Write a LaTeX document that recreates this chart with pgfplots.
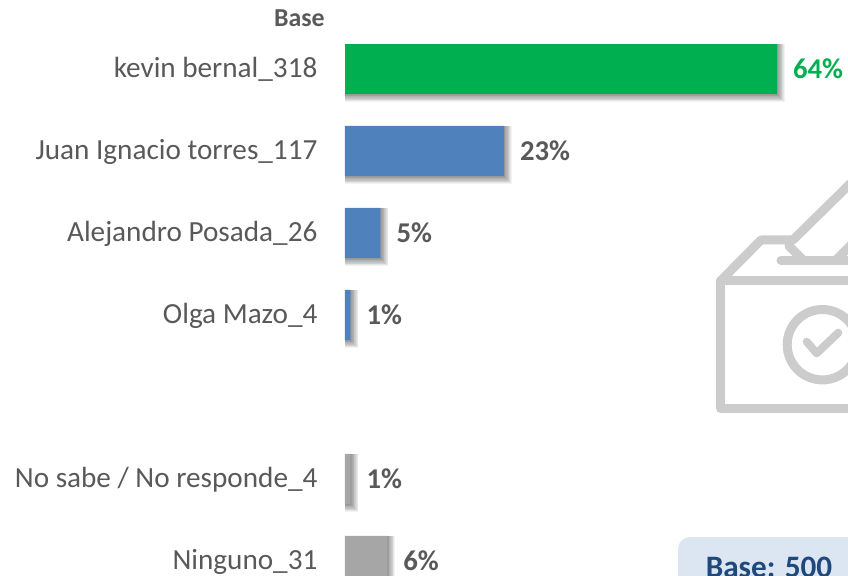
\documentclass[border=0pt]{standalone}
\usepackage{pgfplots}
\usepackage{pgfplotstable}
\usepackage{fontspec}
\setmainfont{Carlito}
\pgfplotsset{compat=1.18}
\definecolor{cgreen}{HTML}{00B050}
\definecolor{cblue}{HTML}{4F81BD}
\definecolor{cgray}{HTML}{A6A6A6}
\definecolor{ctext}{HTML}{595959}
\definecolor{cicon}{HTML}{CCCCCC}
\definecolor{cbox}{HTML}{DCE6F2}
\definecolor{cbase}{HTML}{1F497D}
\pgfplotstableread{
v pos
63.6 0
}\greendata
\pgfplotstableread{
v pos
23.4 1
5.2 2
0.8 3
}\bluedata
\pgfplotstableread{
v pos
0.8 5
6.2 6
}\graydata
\pgfplotsset{
  shadowbar/.style 2 args={xbar,bar width=37.5pt,bar shift=0pt,xshift=#1,yshift=-#1,draw=black,fill=none,line width=#2,draw opacity=0.05},
  mainbar/.style={xbar,bar width=37.5pt,bar shift=0pt,draw=none,fill=#1,
    nodes near coords={\pgfmathprintnumber[fixed,precision=0,assume math mode=true]{\pgfplotspointmeta}\%},
    point meta=x},
  lab/.style={nodes near coords style={anchor=west,xshift=12pt,inner sep=0pt,text=#1,font=\fontsize{21.5}{25}\selectfont\bfseries,opacity=1}},
}
\newcommand{\shadowlayer}[2]{%
  \addplot[shadowbar={#1}{#2}] table[x=v,y=pos] {\greendata};
  \addplot[shadowbar={#1}{#2}] table[x=v,y=pos] {\bluedata};
  \addplot[shadowbar={#1}{#2}] table[x=v,y=pos] {\graydata};
}
\begin{document}
\begin{tikzpicture}
\path[use as bounding box,clip] (-258.75pt,0pt) rectangle (377.25pt,431.25pt);
\begin{scope}[x=0.75pt,y=-0.75pt,shift={(-258.75pt,431.25pt)}]
  % ballot box icon
  \begin{scope}[draw=cicon,line width=6.75pt,line cap=round,line join=round]
    \draw (900,281) -- (720.5,281) -- (720.5,408.5) -- (900,408.5);
    \draw (720.5,281) -- (761,240) -- (793,240) -- (860,174);
    \draw (789,246) -- (803,260);
    \draw (781,260.5) -- (900,260.5);
    \draw (836,260) -- (870,226);
    \draw (822.4,344.7) circle[radius=35.2];
    \draw[line width=6pt] (806.7,341.7) -- (816.7,353.3) -- (838.3,332.7);
  \end{scope}
  % base box
  \fill[cbox,rounded corners=9pt] (678,537) rectangle (900,620);
  \node[anchor=base,text=cbase,font=\fontsize{23.4}{25}\selectfont\bfseries,inner sep=0pt] at (769,577) {Base: 500};
  \node[anchor=east,text=ctext,font=\fontsize{19.4}{22}\selectfont\bfseries,inner sep=0pt] at (325,18) {Base};
\end{scope}
\begin{axis}[
  at={(0,0)},anchor=south west,scale only axis,
  width=377.25pt,height=431.25pt,
  xmin=0,xmax=74.08,
  y dir=reverse,ymin=-0.841,ymax=6.171,
  clip=false,
  axis line style={draw=none},
  tick style={draw=none},
  major tick length=0pt,
  xtick=\empty,
  ytick={0,1,2,3,5,6},
  yticklabels={kevin bernal\_318,Juan Ignacio torres\_117,Alejandro Posada\_26,Olga Mazo\_4,No sabe / No responde\_4,Ninguno\_31},
  yticklabel style={anchor=east,inner sep=0pt,xshift=-20.5pt,text=ctext,font=\fontsize{21.9}{24}\selectfont,text height=17pt,text depth=3.5pt},
]
\shadowlayer{0.3pt}{0.6pt}
\shadowlayer{0.6pt}{1.2pt}
\shadowlayer{0.9pt}{1.8pt}
\shadowlayer{1.2pt}{2.4pt}
\shadowlayer{1.5pt}{3pt}
\shadowlayer{1.8pt}{3.6pt}
\shadowlayer{2.1pt}{4.2pt}
\shadowlayer{2.4pt}{4.8pt}
\shadowlayer{2.7pt}{5.4pt}
\shadowlayer{3pt}{6pt}
\addplot[mainbar=cgreen,lab=cgreen] table[x=v,y=pos] {\greendata};
\addplot[mainbar=cblue,lab=ctext] table[x=v,y=pos] {\bluedata};
\addplot[mainbar=cgray,lab=ctext] table[x=v,y=pos] {\graydata};
\end{axis}
\end{tikzpicture}
\end{document}
